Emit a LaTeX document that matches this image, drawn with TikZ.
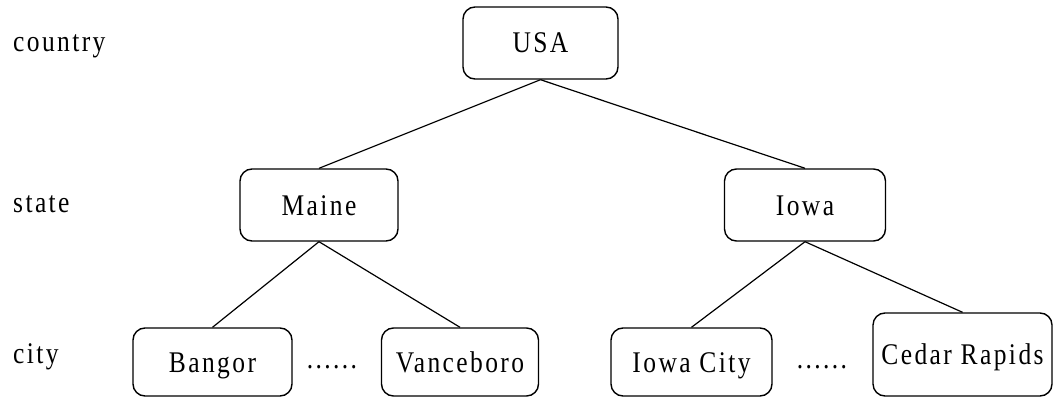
\documentclass[tikz,border=0pt]{standalone}
\usepackage{fontspec}
\setmainfont{Liberation Serif}[FakeStretch=0.85,LetterSpace=8]
\begin{document}
\begin{tikzpicture}[x=1pt,y=-1pt,
  txt/.style={font=\fontsize{30}{36}\selectfont, inner sep=0pt},
  box/.style={txt, draw, line width=1.4pt, rounded corners=12pt,
              text height=20pt, text depth=0pt, minimum height=72pt},
  edge/.style={line width=1.2pt}]
\useasboundingbox (0,0) rectangle (1054,398);

% level labels
\node[txt, anchor=base west] (lc) at (13,52) {country};
\node[txt, anchor=base west] (ls) at (13,212) {state};
\node[txt, anchor=base west] (ly) at (13,363) {city};

% country
\node[box, minimum width=155pt] (usa) at (540.5,43) {USA};

% states
\node[box, minimum width=158pt] (maine) at (319,205) {Maine};
\node[box, minimum width=161pt] (iowa) at (805,205) {Iowa};

% cities
\node[box, minimum width=159pt, minimum height=68pt] (bangor) at (212.5,362) {Bangor};
\node[box, minimum width=157pt, minimum height=68pt] (vance) at (460,362) {Vanceboro};
\node[box, minimum width=161pt, minimum height=68pt] (iowacity) at (691.5,362) {Iowa City};
\node[box, minimum width=179pt, minimum height=83pt] (cedar) at (962.5,354.5) {Cedar Rapids};

% ellipses between cities
\node[txt, anchor=base] (d1) at (332,368) {......};
\node[txt, anchor=base] (d2) at (822,368) {......};

% tree edges
\draw[edge] (usa.south) -- (maine.north);
\draw[edge] (usa.south) -- (iowa.north);
\draw[edge] (maine.south) -- (bangor.north);
\draw[edge] (maine.south) -- (vance.north);
\draw[edge] (iowa.south) -- (iowacity.north);
\draw[edge] (iowa.south) -- (cedar.north);
\end{tikzpicture}
\end{document}
